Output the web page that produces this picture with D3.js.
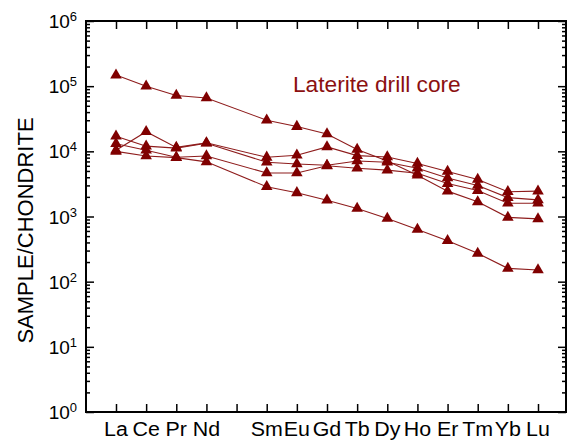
<!DOCTYPE html>
<html>
<head>
<meta charset="utf-8">
<style>
    body { margin: 0; background: #fff; }
    .frame { fill: none; stroke: #000; stroke-width: 2; }
    .axis path { display: none; }
    .axis line { stroke: #000; stroke-width: 1.5; }
    .lbl { font-family: "Liberation Sans", Arial, sans-serif; fill: #000; }
</style>
</head>
<body>
<div id="chart"></div>
<script src="https://cdn.jsdelivr.net/npm/d3@7/dist/d3.min.js"></script>
<script>

//////////////////// data ////////////////////
// REE in order, Pm is skipped (slot 5 has a tick but no label)
const elements = ["La", "Ce", "Pr", "Nd", "Sm", "Eu", "Gd", "Tb", "Dy", "Ho", "Er", "Tm", "Yb", "Lu"];
const elementSlot = [1, 2, 3, 4, 6, 7, 8, 9, 10, 11, 12, 13, 14, 15];
const tickSlots = [1, 2, 3, 4, 5, 6, 7, 8, 9, 10, 11, 12, 13, 14, 15];

const sampleA = [148000, 100000, 72000, 66000, 30000, 24000, 18500, 10700, 7100, 4300, 2450, 1680, 970, 920];
const sampleB = [10400, 20000, 11500, 13500, 8100, 8700, 11700, 8600, 8200, 6500, 4900, 3700, 2400, 2450];
const sampleC = [17100, 12000, 11200, 13300, 6800, 6400, 6100, 7100, 6800, 5500, 3900, 3000, 1950, 1800];
const sampleD = [13100, 10400, 8100, 8500, 4650, 4650, 6000, 5500, 5150, 4600, 3200, 2500, 1600, 1600];
const sampleE = [10000, 8500, 8000, 6900, 2860, 2310, 1780, 1330, 935, 634, 424, 272, 160, 151];

const yDecades = [0, 1, 2, 3, 4, 5, 6];
const titleText = "Laterite drill core";
const yTitle = "SAMPLE/CHONDRITE";

//////////////////// layout ////////////////////
const W = 569, H = 440;
const mLeft = 86, mRight = 566, mTop = 21, mBottom = 412;
const RED = "#800000";

const svg = d3.select("#chart").append("svg")
    .attr("width", W)
    .attr("height", H);

const x = d3.scaleLinear().domain([1, 15]).range([116, 538]);
const y = d3.scaleLog().domain([1, 1e6]).range([mBottom, mTop]);

// minor ticks 2..9 for each decade
let minors = [];
yDecades.slice(0, -1).forEach(d => {
    for (let m = 2; m < 10; m++) minors.push(m * Math.pow(10, d));
});
const majors = yDecades.map(d => Math.pow(10, d));

// left and right axes (ticks inward)
svg.append("g").attr("class", "axis").attr("transform", `translate(${mLeft},0)`)
    .call(d3.axisLeft(y).tickValues(minors).tickSize(-4).tickFormat(""));
svg.append("g").attr("class", "axis").attr("transform", `translate(${mLeft},0)`)
    .call(d3.axisLeft(y).tickValues(majors).tickSize(-8).tickFormat(""));
svg.append("g").attr("class", "axis").attr("transform", `translate(${mRight},0)`)
    .call(d3.axisRight(y).tickValues(minors).tickSize(-4).tickFormat(""));
svg.append("g").attr("class", "axis").attr("transform", `translate(${mRight},0)`)
    .call(d3.axisRight(y).tickValues(majors).tickSize(-8).tickFormat(""));

// bottom and top axes
svg.append("g").attr("class", "axis").attr("transform", `translate(0,${mBottom})`)
    .call(d3.axisBottom(x).tickValues(tickSlots).tickSize(-8).tickFormat(""));
svg.append("g").attr("class", "axis").attr("transform", `translate(0,${mTop})`)
    .call(d3.axisTop(x).tickValues(tickSlots).tickSize(-8).tickFormat(""));

svg.append("rect")
    .classed("frame", true)
    .attr("x", mLeft)
    .attr("y", mTop)
    .attr("width", mRight - mLeft)
    .attr("height", mBottom - mTop);

// y tick labels 10^n
const yl = svg.append("g");
yDecades.forEach(d => {
    let t = yl.append("text")
        .classed("lbl", true)
        .attr("x", 77)
        .attr("y", y(Math.pow(10, d)) + 7)
        .attr("text-anchor", "end")
        .style("font-size", "19px");
    t.append("tspan").text("10");
    t.append("tspan").attr("dy", -7).style("font-size", "13px").text(d);
});

// x labels (the original lettering is slightly wider than normal)
svg.append("g").selectAll("text")
    .data(elements)
    .join("text")
    .classed("lbl", true)
    .attr("transform", (e, i) => `translate(${x(elementSlot[i])},436) scale(1.07,1)`)
    .attr("text-anchor", "middle")
    .style("font-size", "20px")
    .text(e => e);

// y title
svg.append("text")
    .classed("lbl", true)
    .attr("transform", `translate(33, ${(mTop + mBottom) / 2 + 14}) rotate(-90)`)
    .attr("text-anchor", "middle")
    .style("font-size", "22px")
    .text(yTitle);

// chart title
svg.append("text")
    .classed("lbl", true)
    .attr("x", 293)
    .attr("y", 92)
    .style("font-size", "22.7px")
    .style("fill", "#8b1010")
    .text(titleText);

//////////////////// series ////////////////////
const series = [sampleA, sampleB, sampleC, sampleD, sampleE];
const line = d3.line()
    .x((v, i) => x(elementSlot[i]))
    .y(v => y(v));

const gs = svg.append("g");
series.forEach(s => {
    gs.append("path")
        .attr("d", line(s))
        .attr("fill", "none")
        .attr("stroke", "#8e1c1c")
        .attr("stroke-width", 1.1);
});
const tri = d3.symbol().type(d3.symbolTriangle).size(58);
series.forEach(s => {
    gs.append("g").selectAll("path")
        .data(s)
        .join("path")
        .attr("d", tri)
        .attr("transform", (v, i) => `translate(${x(elementSlot[i])},${y(v)})`)
        .attr("fill", RED);
});

</script>
</body>
</html>
